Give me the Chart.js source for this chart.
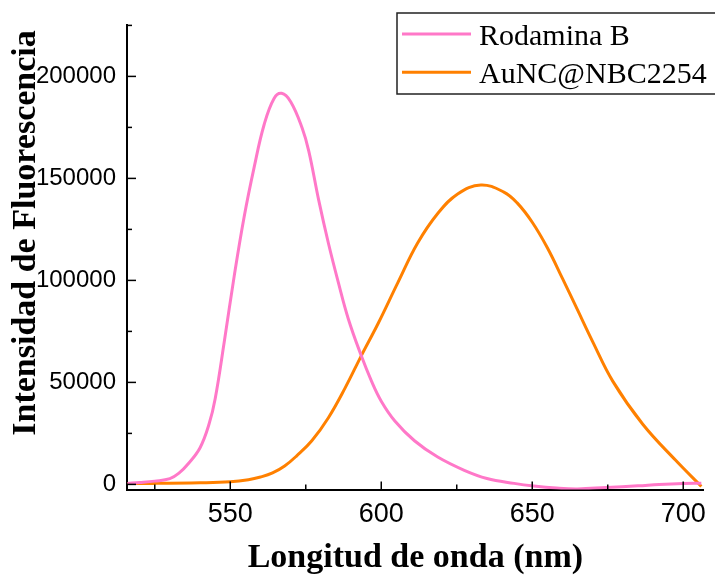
<!DOCTYPE html>
<html>
<head>
<meta charset="utf-8">
<script src="https://cdn.jsdelivr.net/npm/chart.js@4/dist/chart.umd.min.js"></script>
<style>
    body { margin: 0; background: #fff; }
    #wrap { width: 715px; height: 579px; }
</style>
</head>
<body>
<div id="wrap"><canvas id="grafico" width="715" height="579"></canvas></div>
<script>
// Rodamina B
const rodaminaX = [516, 520, 525, 530, 533, 536, 540, 543, 545, 548, 551.3, 554.6, 557.9, 561.2, 564.5, 567, 570, 573.8, 576, 579.3, 582.5, 585.8, 589.1, 593.3, 596.8, 600, 604.5, 611, 618.7, 627.5, 635, 644, 650.5, 658, 665, 674.5, 685, 692, 700, 706];
const rodaminaY = [500, 900, 1600, 2800, 5500, 10000, 18000, 29700, 42000, 69800, 102100, 131200, 155400, 176300, 189200, 191700, 187600, 174700, 163400, 139200, 118200, 98900, 81100, 63400, 50500, 40800, 31100, 21400, 13400, 6900, 2900, 500, -800, -1800, -2200, -1500, -700, 0, 500, 600];

// AuNC@NBC2254
const aunccX = [516, 525, 540, 550, 556, 560, 564, 568, 572, 577, 582.5, 588, 593.5, 599, 605.5, 612, 618.7, 625.3, 633, 640.6, 645, 650, 655, 660, 665, 670, 676.7, 686.6, 697.5, 706];
const aunccY = [500, 500, 800, 1300, 2300, 3600, 5600, 9000, 14000, 21400, 32700, 47200, 63400, 79000, 98900, 118200, 132800, 142400, 146800, 143300, 138000, 128500, 116000, 101000, 85500, 70000, 50500, 29500, 11800, -1000];

const etiquetas = ['Rodamina B', 'AuNC@NBC2254'];
const colores = ['#ff78c8', '#ff8000'];
const ticksX = [525, 550, 575, 600, 625, 650, 675, 700];
const ticksY = [0, 25000, 50000, 75000, 100000, 125000, 150000, 175000, 200000, 225000];
const tituloX = 'Longitud de onda (nm)';
const tituloY = 'Intensidad de Fluorescencia';

function puntos(xs, ys) {
    return xs.map((x, i) => ({x: x, y: ys[i]}));
}

// ticks hacia dentro (mayores y menores)
const ticksDentro = {
    id: 'ticksDentro',
    afterDraw(chart) {
        const ctx = chart.ctx;
        const xs = chart.scales.x;
        const ys = chart.scales.y;
        ctx.save();
        ctx.strokeStyle = '#000';
        ctx.lineWidth = 1.5;
        xs.ticks.forEach(t => {
            const px = xs.getPixelForValue(t.value);
            const len = t.value % 50 === 0 ? 8 : 5;
            ctx.beginPath();
            ctx.moveTo(px, xs.top);
            ctx.lineTo(px, xs.top - len);
            ctx.stroke();
        });
        ys.ticks.forEach(t => {
            const py = ys.getPixelForValue(t.value);
            const len = t.value % 50000 === 0 ? 9 : 5;
            ctx.beginPath();
            ctx.moveTo(ys.right, py);
            ctx.lineTo(ys.right + len, py);
            ctx.stroke();
        });
        ctx.restore();
    }
};

// titulo del eje y y leyenda con marco
const extras = {
    id: 'extras',
    afterDraw(chart) {
        const ctx = chart.ctx;
        ctx.save();
        ctx.translate(35, 233);
        ctx.rotate(-Math.PI / 2);
        ctx.font = 'bold 34px "Liberation Serif", "Times New Roman", serif';
        ctx.fillStyle = '#000';
        ctx.textAlign = 'center';
        ctx.textBaseline = 'alphabetic';
        ctx.fillText(tituloY, 0, 0);
        ctx.restore();

        ctx.save();
        ctx.fillStyle = '#fff';
        ctx.fillRect(397, 13, 330, 81);
        ctx.strokeStyle = '#222';
        ctx.lineWidth = 1.5;
        ctx.strokeRect(397, 13, 330, 81);
        ctx.font = '30px "Liberation Serif", "Times New Roman", serif';
        ctx.textBaseline = 'alphabetic';
        ctx.textAlign = 'left';
        chart.data.datasets.forEach((ds, i) => {
            const y = 34 + i * 38.3;
            ctx.strokeStyle = ds.borderColor;
            ctx.lineWidth = 3;
            ctx.beginPath();
            ctx.moveTo(402, y);
            ctx.lineTo(471, y);
            ctx.stroke();
            ctx.fillStyle = '#000';
            ctx.fillText(ds.label, 479, y + 11);
        });
        ctx.restore();
    }
};

const ctx = document.getElementById('grafico').getContext('2d');
new Chart(ctx, {
    type: 'line',
    data: {
        datasets: [{
            label: etiquetas[0],
            data: puntos(rodaminaX, rodaminaY),
            borderColor: colores[0],
            backgroundColor: colores[0],
            borderWidth: 3,
            pointRadius: 0,
            tension: 0.4,
            fill: false
        }, {
            label: etiquetas[1],
            data: puntos(aunccX, aunccY),
            borderColor: colores[1],
            backgroundColor: colores[1],
            borderWidth: 3,
            pointRadius: 0,
            tension: 0.4,
            fill: false
        }]
    },
    options: {
        responsive: false,
        animation: false,
        layout: { padding: { top: 19.5, right: 7, left: 0, bottom: 0 } },
        plugins: {
            legend: { display: false },
            tooltip: { enabled: false }
        },
        scales: {
            x: {
                type: 'linear',
                min: 515.8,
                max: 706.8,
                grid: { display: false, drawTicks: false },
                border: { display: true, color: '#000', width: 2 },
                afterBuildTicks: s => { s.ticks = ticksX.map(v => ({value: v})); },
                ticks: {
                    padding: 9,
                    color: '#000',
                    font: { family: '"Liberation Sans", Arial, sans-serif', size: 27 },
                    callback: v => (v % 50 === 0 ? String(v) : '')
                },
                title: {
                    display: true,
                    text: tituloX,
                    color: '#000',
                    padding: { top: 0, bottom: 0 },
                    font: { family: '"Liberation Serif", "Times New Roman", serif', size: 34, weight: 'bold' }
                },
                afterFit: s => { s.height = 89.5; }
            },
            y: {
                min: -2500,
                max: 225000,
                grid: { display: false, drawTicks: false },
                border: { display: true, color: '#000', width: 2 },
                afterBuildTicks: s => { s.ticks = ticksY.map(v => ({value: v})); },
                ticks: {
                    padding: 11,
                    color: '#000',
                    font: { family: '"Liberation Sans", Arial, sans-serif', size: 24 },
                    callback: v => (v % 50000 === 0 ? String(v) : '')
                },
                afterFit: s => { s.width = 127; }
            }
        }
    },
    plugins: [ticksDentro, extras]
});
</script>
</body>
</html>
